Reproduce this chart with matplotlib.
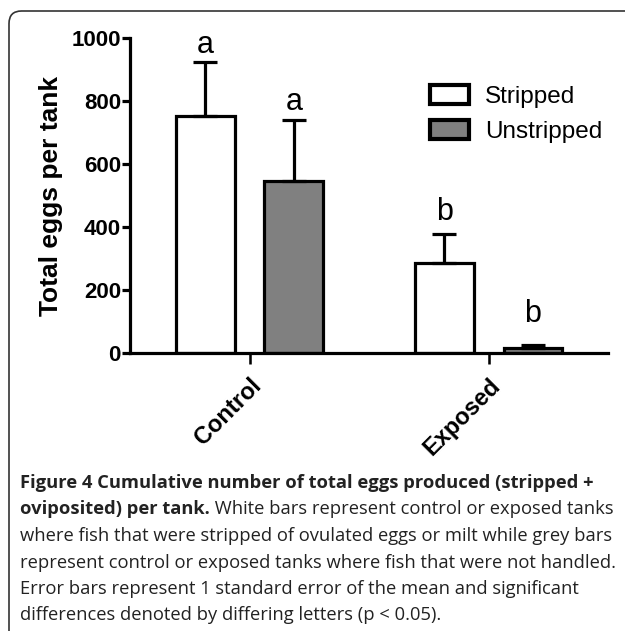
import matplotlib.pyplot as plt
import numpy as np
from matplotlib.patches import FancyBboxPatch

plt.rcParams['font.family'] = ['Liberation Sans', 'DejaVu Sans']

groups = ['Control', 'Exposed']
series = ['Stripped', 'Unstripped']
stripped_mean = [752, 285]
stripped_se = [172, 92]
unstripped_mean = [546, 16]
unstripped_se = [194, 9]
letters_stripped = ['a', 'b']
letters_unstripped = ['a', 'b']
letter_y_stripped = [953, 422]
letter_y_unstripped = [771, 98]

caption_lines = [
    [("Figure 4 Cumulative number of total eggs produced (stripped +", 'bold')],
    [("oviposited) per tank.", 'bold'), (" White bars represent control or exposed tanks", 'normal')],
    [("where fish that were stripped of ovulated eggs or milt while grey bars", 'normal')],
    [("represent control or exposed tanks where fish that were not handled.", 'normal')],
    [("Error bars represent 1 standard error of the mean and significant", 'normal')],
    [("differences denoted by differing letters (p < 0.05).", 'normal')],
]

fig = plt.figure(figsize=(6.25, 6.31), dpi=100)
ax = fig.add_axes([0.208, 0.4406, 0.765, 0.4992])

x = np.arange(len(groups))
width = 0.245
off = 0.185
lw = 2.3

err_kw = dict(elinewidth=lw, capthick=lw, ecolor='black')
ax.bar(x - off, stripped_mean, width, color='white', edgecolor='black', linewidth=lw,
       yerr=[np.zeros(2), stripped_se], capsize=8.5, error_kw=err_kw, label=series[0], zorder=2)
ax.bar(x + off, unstripped_mean, width, color='#808080', edgecolor='black', linewidth=lw,
       yerr=[np.zeros(2), unstripped_se], capsize=8.5, error_kw=err_kw, label=series[1], zorder=2)

for i in range(len(groups)):
    ax.text(x[i] - off, letter_y_stripped[i], letters_stripped[i], ha='center', va='baseline', fontsize=22)
    ax.text(x[i] + off, letter_y_unstripped[i], letters_unstripped[i], ha='center', va='baseline', fontsize=22)

ax.set_xlim(-0.5, 1.5)
ax.set_ylim(0, 1000)
ax.set_yticks([0, 200, 400, 600, 800, 1000])
ax.set_xticks(x)
ax.set_xticklabels(groups, rotation=45, ha='right', rotation_mode='anchor', fontweight='bold', fontsize=17)
for lab in ax.get_yticklabels():
    lab.set_fontweight('bold')
ax.tick_params(axis='y', labelsize=16, width=lw, length=6, pad=0.5)
ax.tick_params(axis='x', width=lw * 0.8, length=8, pad=7)
ax.set_ylabel('Total eggs per tank', fontsize=19, fontweight='bold', labelpad=6)

for s in ['top', 'right']:
    ax.spines[s].set_visible(False)
for s in ['left', 'bottom']:
    ax.spines[s].set_linewidth(lw)

leg = ax.legend(loc='upper left', bbox_to_anchor=(0.582, 0.92), frameon=False, fontsize=17.5,
                handlelength=1.6, handleheight=0.82, handletextpad=0.66, labelspacing=0.5)
for h in leg.legend_handles:
    h.set_linewidth(3)

# 圆角边框
frame = FancyBboxPatch((9 / 625, -0.05), 1.2, 1 - 11 / 631 + 0.05, transform=fig.transFigure,
                       boxstyle='round,pad=0,rounding_size=0.02', fill=False,
                       edgecolor='#333333', linewidth=1.2, clip_on=False)
fig.patches.append(frame)

# 图注
fig.canvas.draw()
r = fig.canvas.get_renderer()
y0 = 1 - 483 / 631
step = 26.5 / 631
for k, line in enumerate(caption_lines):
    xpos = 20 / 625
    for txt, wt in line:
        t = fig.text(xpos, y0 - k * step, txt, fontsize=13.2, fontweight=wt, color='#222222',
                     family=['Open Sans', 'DejaVu Sans'], va='center', ha='left')
        bb = t.get_window_extent(renderer=r)
        xpos = bb.x1 / fig.bbox.width

fig.savefig('out.png', dpi=100)
plt.close()
